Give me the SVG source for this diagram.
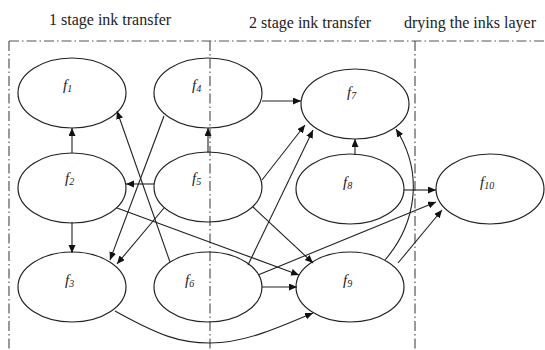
<svg xmlns="http://www.w3.org/2000/svg" width="545" height="350" viewBox="0 0 545 350">
<style>
.bg{fill:#fff}
.div{stroke:#555;stroke-width:1.2;fill:none;stroke-dasharray:10 3 1.5 3}
.node ellipse{fill:none;stroke:#222;stroke-width:1.2}
.lab{font-family:"Liberation Serif",serif;font-style:italic;font-size:15px;fill:#222}
.sub{font-size:10px}
.head{font-family:"Liberation Serif",serif;font-size:16px;fill:#222}
#edges path{fill:none;stroke:#222;stroke-width:1.1;marker-end:url(#arr)}
</style>
<defs>
<marker id="arr" markerUnits="userSpaceOnUse" markerWidth="9" markerHeight="8" refX="8" refY="3.5" orient="auto">
<path d="M0,0 L8,3.5 L0,7 z" fill="#111"/>
</marker>
</defs>
<rect class="bg" width="545" height="350"/>
<g id="headings">
<text class="head" x="49" y="25">1 stage ink transfer</text>
<text class="head" x="249" y="28">2 stage ink transfer</text>
<text class="head" x="404" y="28">drying the inks layer</text>
</g>
<g id="frame">
<path class="div" d="M9,41 H545"/>
<path class="div" d="M9,41 V350"/>
<path class="div" d="M210,41 V350"/>
<path class="div" d="M415,41 V350"/>
</g>
<g id="f1" class="node"><ellipse cx="72" cy="93" rx="54" ry="35"/><text class="lab" x="63" y="90">f<tspan class="sub" dy="2">1</tspan></text></g>
<g id="f2" class="node"><ellipse cx="72" cy="188" rx="54" ry="35"/><text class="lab" x="65" y="183">f<tspan class="sub" dy="2">2</tspan></text></g>
<g id="f3" class="node"><ellipse cx="72" cy="287" rx="54" ry="35"/><text class="lab" x="65" y="285">f<tspan class="sub" dy="2">3</tspan></text></g>
<g id="f4" class="node"><ellipse cx="208" cy="93" rx="54" ry="35"/><text class="lab" x="192" y="90">f<tspan class="sub" dy="2">4</tspan></text></g>
<g id="f5" class="node"><ellipse cx="208" cy="187" rx="54" ry="35"/><text class="lab" x="192" y="183">f<tspan class="sub" dy="2">5</tspan></text></g>
<g id="f6" class="node"><ellipse cx="208" cy="287" rx="54" ry="35"/><text class="lab" x="185" y="285">f<tspan class="sub" dy="2">6</tspan></text></g>
<g id="f7" class="node"><ellipse cx="355" cy="104" rx="54" ry="35"/><text class="lab" x="347" y="97">f<tspan class="sub" dy="2">7</tspan></text></g>
<g id="f8" class="node"><ellipse cx="350" cy="189" rx="54" ry="35"/><text class="lab" x="343" y="187">f<tspan class="sub" dy="2">8</tspan></text></g>
<g id="f9" class="node"><ellipse cx="350" cy="287" rx="54" ry="35"/><text class="lab" x="343" y="285">f<tspan class="sub" dy="2">9</tspan></text></g>
<g id="f10" class="node"><ellipse cx="490" cy="189" rx="54" ry="35"/><text class="lab" x="480" y="187">f<tspan class="sub" dy="2">10</tspan></text></g>
<g id="edges">
<path d="M72,153 L72,128"/>
<path d="M208,153 L208,128"/>
<path d="M262,101 L301,101"/>
<path d="M355,155 L355,139"/>
<path d="M154,184 L126,184"/>
<path d="M72,222 L72,253"/>
<path d="M170,262 L117,111"/>
<path d="M164,116 L110,260"/>
<path d="M164,208 L117,264"/>
<path d="M117,208 L299,275"/>
<path d="M253,207 L313,263"/>
<path d="M262,287 L297,287"/>
<path d="M258,275 L436,202"/>
<path d="M262,180 L305,125"/>
<path d="M248,265 L313,130"/>
<path d="M115,311 C160,336 180,343 210,343 C245,343 280,327 313,313"/>
<path d="M385,260 C415,225 425,175 396,129"/>
<path d="M404,190 L436,190"/>
<path d="M398,263 L442,210"/>
</g>
</svg>
